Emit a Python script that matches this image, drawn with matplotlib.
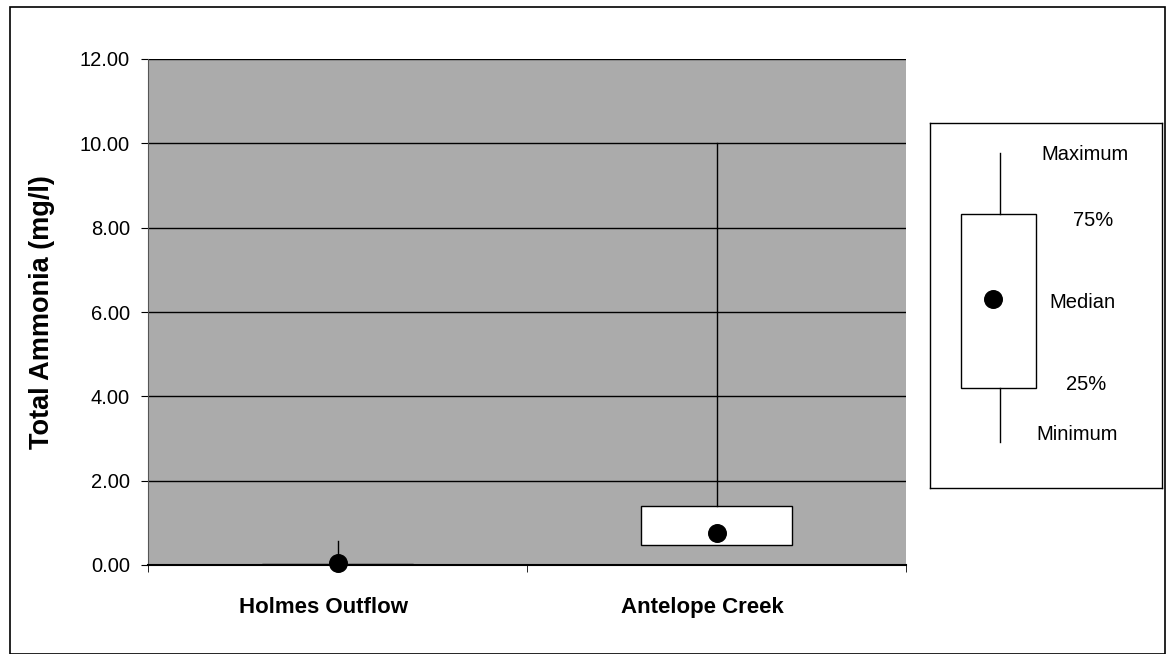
import matplotlib
matplotlib.use("Agg")
import matplotlib.pyplot as plt
import matplotlib.transforms as mtransforms
from matplotlib.patches import Rectangle
from matplotlib.ticker import FormatStrFormatter

plt.rcParams['font.family'] = ['Liberation Sans', 'DejaVu Sans']

# data (mg/l)
sites = ['Holmes Outflow', 'Antelope Creek']
minimum = [0.00, 0.47]
q25 = [0.00, 0.47]
median = [0.05, 0.76]
q75 = [0.02, 1.40]
maximum = [0.57, 10.00]

fig = plt.figure(figsize=(11.67, 6.54), dpi=100)
W, H = 1167, 654

# outer frame around the whole chart
fig.patches.append(Rectangle((10 / W, 0.0), 1155 / W, 1 - 7 / H, transform=fig.transFigure,
                             fill=False, edgecolor='black', linewidth=1.2))

ax = fig.add_axes([148 / W, 1 - 565 / H, 758 / W, 506 / H])
ax.set_facecolor('#ababab')

stats = []
for i, s in enumerate(sites):
    stats.append({'label': s, 'whislo': minimum[i], 'q1': q25[i], 'med': median[i],
                  'q3': q75[i], 'whishi': maximum[i]})
pos = [1, 2]
ax.bxp(stats, positions=pos, widths=0.4, showfliers=False, showcaps=False, patch_artist=True,
       boxprops=dict(facecolor='white', edgecolor='black', linewidth=1),
       whiskerprops=dict(color='black', linewidth=1),
       medianprops=dict(linewidth=0))
ax.scatter(pos, median, s=160, color='black', zorder=5, clip_on=False)

ax.set_xlim(0.5, 2.5)
ax.set_ylim(0, 12)
ax.set_yticks([0, 2, 4, 6, 8, 10, 12])
ax.yaxis.set_major_formatter(FormatStrFormatter('%.2f'))
ax.grid(axis='y', color='black', linewidth=1)
ax.set_axisbelow(True)
for s in ['top', 'right']:
    ax.spines[s].set_visible(False)
ax.spines['left'].set_color('#555555')
ax.spines['bottom'].set_linewidth(1.5)

ax.set_xticks(pos)
ax.set_xticklabels(sites, fontsize=16, fontweight='bold')
ax.set_xticks([0.5, 1.5, 2.5], minor=True)
ax.tick_params(axis='x', which='major', length=0, pad=23)
ax.tick_params(axis='x', which='minor', length=5, direction='out')
ax.tick_params(axis='y', length=5, direction='out', labelsize=14.5, pad=8)
ax.set_ylabel('Total Ammonia (mg/l)', fontsize=19.5, fontweight='bold', labelpad=18)

# category labels sit a little left of the category centre
shift = mtransforms.ScaledTranslation(-14 / 100, 0, fig.dpi_scale_trans)
for lab in ax.get_xticklabels():
    lab.set_transform(lab.get_transform() + shift)

# legend key drawn in pixel coordinates
lg = fig.add_axes([930 / W, 1 - 488 / H, 232 / W, 365 / H])
lg.set_xlim(930, 1162)
lg.set_ylim(488, 123)
lg.set_xticks([])
lg.set_yticks([])
for s in lg.spines.values():
    s.set_linewidth(1)
lg.plot([1000, 1000], [153, 214], color='black', lw=1)
lg.plot([1000, 1000], [388, 442], color='black', lw=1)
lg.add_patch(Rectangle((961, 214), 75, 174, facecolor='white', edgecolor='black', lw=1))
lg.scatter([993], [299], s=160, color='black', zorder=5)
for txt, x, y in [('Maximum', 1085, 155), ('75%', 1093, 220), ('Median', 1082, 303),
                  ('25%', 1086, 384), ('Minimum', 1077, 434)]:
    lg.text(x, y, txt, ha='center', va='center', fontsize=14.5)

fig.savefig('out.png', dpi=100)
